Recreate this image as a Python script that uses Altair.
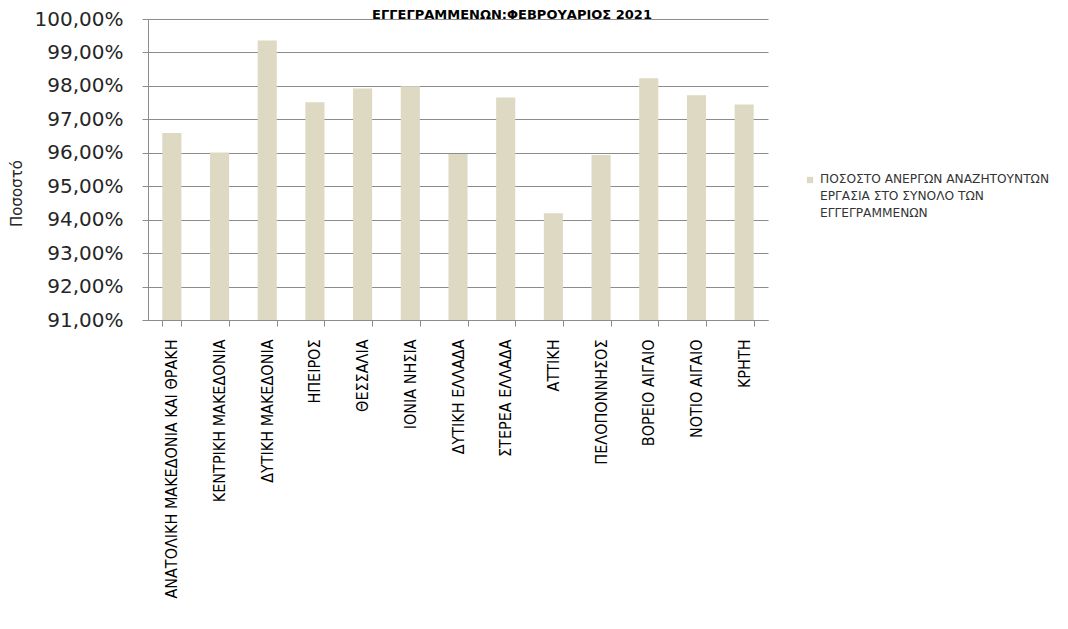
import altair as alt
import pandas as pd

regions = [
    "ΑΝΑΤΟΛΙΚΗ ΜΑΚΕΔΟΝΙΑ ΚΑΙ ΘΡΑΚΗ", "ΚΕΝΤΡΙΚΗ ΜΑΚΕΔΟΝΙΑ", "ΔΥΤΙΚΗ ΜΑΚΕΔΟΝΙΑ",
    "ΗΠΕΙΡΟΣ", "ΘΕΣΣΑΛΙΑ", "ΙΟΝΙΑ ΝΗΣΙΑ", "ΔΥΤΙΚΗ ΕΛΛΑΔΑ", "ΣΤΕΡΕΑ ΕΛΛΑΔΑ",
    "ΑΤΤΙΚΗ", "ΠΕΛΟΠΟΝΝΗΣΟΣ", "ΒΟΡΕΙΟ ΑΙΓΑΙΟ", "ΝΟΤΙΟ ΑΙΓΑΙΟ", "ΚΡΗΤΗ",
]
values = [96.59, 96.01, 99.36, 97.51, 97.92, 97.99, 95.96, 97.65,
          94.19, 95.93, 98.23, 97.72, 97.44]
y_ticks = [91, 92, 93, 94, 95, 96, 97, 98, 99, 100]
legend_lines = ["ΠΟΣΟΣΤΟ  ΑΝΕΡΓΩΝ ΑΝΑΖΗΤΟΥΝΤΩΝ", "ΕΡΓΑΣΙΑ ΣΤΟ ΣΥΝΟΛΟ ΤΩΝ", "ΕΓΓΕΓΡΑΜΜΕΝΩΝ"]
title_text = "ΕΓΓΕΓΡΑΜΜΕΝΩΝ:ΦΕΒΡΟΥΑΡΙΟΣ  2021"
y_title = "Ποσοστό"

bar_color = "#DDD9C3"
grid_color = "#8c8c8c"

df = pd.DataFrame({"region": regions, "value": values})
legend_df = pd.DataFrame({"label": ["|".join(legend_lines)]})
title_df = pd.DataFrame({"title": [title_text]})

bars = alt.Chart(df).mark_bar(color=bar_color).encode(
    x=alt.X(
        "region:N", sort=regions, title=None,
        scale=alt.Scale(paddingInner=0.6, paddingOuter=0.3),
        axis=alt.Axis(
            labelAngle=-90, labelFont="DejaVu Sans Condensed, sans-serif",
            labelFontSize=16, labelColor="#000000", labelPadding=13, labelLimit=0,
            tickBand="extent", tickSize=6, tickColor=grid_color, domainColor=grid_color,
            labelBaseline="middle",
        ),
    ),
    y=alt.Y(
        "value:Q", title=y_title,
        scale=alt.Scale(domain=[91, 100], zero=False, nice=False),
        axis=alt.Axis(
            values=y_ticks,
            labelExpr="replace(format(datum.value, '.2f'), '.', ',') + '%'",
            labelFont="DejaVu Sans", labelFontSize=20, labelColor="#262626", labelPadding=19,
            tickSize=6, tickColor=grid_color, domainColor=grid_color,
            gridColor=grid_color, gridOpacity=1,
            titleFont="DejaVu Sans", titleFontSize=15, titleFontWeight="normal", titleColor="#262626",
            titleAngle=270, titleX=-132, titleY=174, titleAlign="center", titleBaseline="middle",
        ),
    ),
    y2=alt.datum(91),
)

legend_square = alt.Chart(legend_df).mark_square(color=bar_color, size=40, opacity=1).encode(
    x=alt.value(662), y=alt.value(161),
)
legend_text = alt.Chart(legend_df).mark_text(
    align="left", baseline="top", lineBreak="|", lineHeight=17,
    font="DejaVu Sans", fontSize=12.2, color="#333333",
).encode(
    text="label:N", x=alt.value(672), y=alt.value(154),
)
title = alt.Chart(title_df).mark_text(
    align="center", baseline="alphabetic", font="DejaVu Sans",
    fontSize=13, fontWeight="bold", color="#000000",
).encode(
    text="title:N", x=alt.value(364), y=alt.value(-0.5),
)

chart = alt.layer(bars, legend_square, legend_text, title).properties(
    width=620, height=301,
    autosize=alt.AutoSizeParams(type="none"),
    padding={"left": 140, "top": 11, "right": 292, "bottom": 301},
).configure_view(stroke=None).configure_axisX(grid=False)

chart.save("out.html", embed_options={"renderer": "svg", "actions": False})
